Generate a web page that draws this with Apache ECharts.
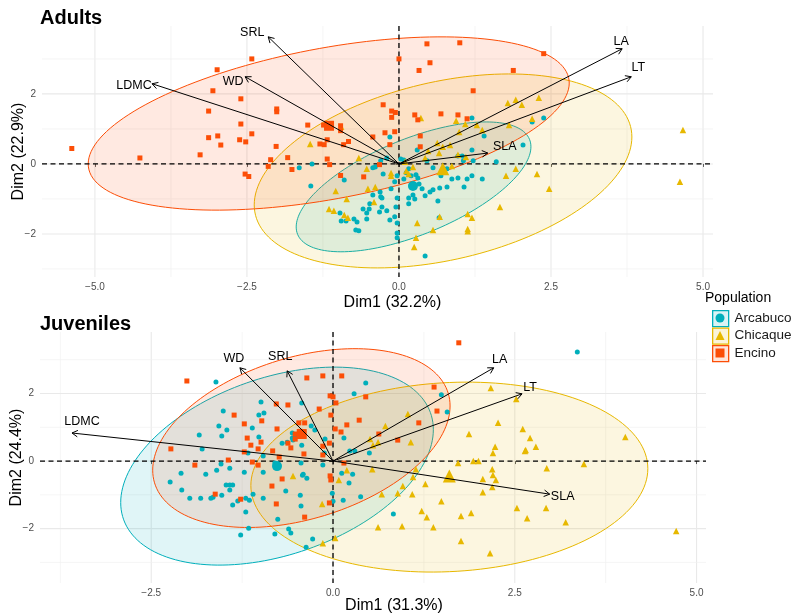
<!DOCTYPE html>
<html><head><meta charset="utf-8">
<script src="https://cdn.jsdelivr.net/npm/echarts@6/dist/echarts.min.js"></script>
<style>html,body{margin:0;padding:0;background:#fff}#c{width:791px;height:615px}</style>
</head><body><div id="c"></div>
<script>
// ---------------- DATA ----------------
const populations = ['Arcabuco', 'Chicaque', 'Encino'];

// Adults (PCA individuals, Dim1 / Dim2)
const adultsArcabuco = [[-1.64,-0.11],[-1.43,0.0],[-1.45,-0.63],[-0.90,-0.46],[-0.97,-1.4],[-0.95,-1.63],[-0.87,-1.63],[-0.74,-1.57],[-0.71,-1.89],[-0.69,-1.66],[-0.66,-1.91],[-0.59,-1.29],[-0.53,-1.40],[-0.53,-1.57],[-0.49,-1.29],[-0.48,-1.14],[-0.43,-0.89],[-0.32,-1.37],[-0.28,-1.23],[-0.20,-1.34],[-0.15,-1.60],[-0.07,-1.51],[-0.30,0.09],[-0.43,-0.11],[-0.30,-0.94],[-0.31,-0.80],[-0.15,0.77],[-0.07,-0.51],[-0.39,-0.09],[-0.26,-0.29],[-0.13,-0.71],[-0.28,-0.97],[-0.05,-1.23],[-0.03,-0.97],[-0.03,-0.34],[-0.03,-1.69],[-0.03,-1.97],[-0.03,-2.11],[0.03,0.14],[0.08,-0.43],[0.16,-0.14],[0.12,-0.25],[0.20,-0.34],[0.28,-0.31],[0.31,-0.40],[0.38,-0.71],[0.33,-0.57],[0.16,-0.97],[0.23,-0.89],[0.26,-1.0],[0.16,-1.14],[0.43,-0.91],[0.51,-0.80],[0.56,-0.74],[0.64,-1.06],[0.67,-0.69],[0.79,-0.66],[0.87,-0.43],[0.97,-0.40],[1.07,-0.66],[1.12,-0.43],[1.20,-0.34],[1.37,-0.43],[0.66,-1.54],[0.43,-2.63],[0.46,0.09],[0.56,-0.11],[0.69,-0.34],[0.79,-0.14],[1.04,0.23],[1.06,0.09],[1.22,0.09],[1.20,0.40],[1.40,0.80],[1.20,1.31],[1.60,0.06],[0.97,0.23],[2.04,0.54],[2.19,1.20],[2.38,1.31],[0.08,0.11],[-0.20,0.17],[0.30,0.40]];
const adultsChicaque = [[-1.46,0.57],[-1.04,-0.77],[-0.86,-1.0],[-1.15,-1.29],[-1.07,-1.34],[-0.90,-1.46],[-0.84,-1.54],[-0.66,0.17],[-0.53,-0.14],[-0.51,-0.71],[-0.39,-0.66],[-0.41,-1.09],[-0.95,1.06],[-0.13,-0.26],[-0.13,-0.34],[0.36,1.31],[0.63,0.60],[0.72,0.49],[0.84,0.54],[0.48,0.37],[0.66,0.31],[0.43,0.17],[0.10,0.06],[0.23,-0.09],[0.12,-0.2],[0.16,-0.29],[0.87,-0.06],[0.99,0.91],[0.94,1.23],[1.09,1.14],[1.28,1.11],[1.37,0.97],[0.97,0.26],[1.10,0.20],[0.67,-1.51],[0.30,-1.69],[0.56,-1.89],[0.28,-2.11],[0.25,-2.37],[1.13,-1.43],[1.20,-1.54],[1.13,-1.86],[1.66,-1.23],[1.79,1.74],[1.92,1.83],[2.02,1.69],[2.30,1.89],[2.19,1.29],[1.81,1.11],[1.76,-0.34],[1.92,-0.14],[2.27,-0.29],[2.47,-0.71],[4.67,0.97],[4.62,-0.51],[1.13,-1.92]];
const adultsEncino = [[-2.42,3.0],[-2.99,2.69],[-3.06,2.09],[-2.60,1.86],[-2.01,1.57],[-2.01,1.49],[-3.13,1.51],[-2.60,1.14],[-2.42,0.86],[-3.13,0.75],[-2.98,0.80],[-2.93,0.54],[-2.62,0.69],[-2.52,0.63],[-2.02,0.50],[-3.27,0.26],[-4.26,0.17],[-5.38,0.44],[-2.53,-0.29],[-2.47,-0.36],[-2.11,0.12],[-2.15,-0.07],[-1.83,0.18],[-1.76,-0.16],[-1.50,1.11],[-1.24,1.11],[-1.18,1.05],[-0.96,1.09],[-0.96,0.95],[-1.18,0.69],[-1.30,0.57],[-1.23,0.55],[-0.91,0.55],[-0.83,0.64],[-0.43,0.77],[-1.18,0.14],[-1.14,-0.02],[-0.96,-0.33],[-0.58,-0.37],[-0.32,-0.02],[-0.26,1.69],[-0.12,1.51],[-0.06,1.47],[-0.12,1.33],[-0.23,0.89],[-0.15,0.55],[-0.07,0.92],[0.46,3.43],[1.00,3.46],[2.38,3.15],[0.0,3.0],[0.51,2.89],[0.33,2.67],[1.88,2.67],[1.22,2.09],[0.26,1.40],[0.31,1.26],[0.69,1.43],[0.97,1.40],[1.12,1.29],[0.35,0.80],[0.35,0.49]];
const adultsMeans = [[0.23,-0.63],[0.72,-0.14],[-1.15,1.09]];
// ellipse: centre x, centre y, half-width x, y-shift at half-width, vertical half-conjugate
const adultsEllipses = [[0.24,-0.655,1.93,1.145,1.459],[0.725,-0.2,3.105,0.97,2.595],[-1.155,1.155,3.955,1.155,2.189]];
const adultsVars = ['LA','LT','SLA','SRL','WD','LDMC'];
const adultsLoadings = [[3.67,3.29],[3.82,2.49],[1.46,0.31],[-2.15,3.63],[-2.53,2.49],[-4.06,2.29]];

// Juveniles
const juvArcabuco = [[-1.61,2.34],[-0.99,1.75],[-1.51,1.48],[-1.02,1.36],[-0.95,1.42],[-1.57,1.04],[-1.46,0.92],[-1.84,0.77],[-1.53,0.74],[-1.11,0.98],[-1.02,0.71],[-0.43,1.72],[-1.80,0.36],[-1.17,0.24],[-0.96,0.15],[-0.70,0.53],[-0.63,0.56],[-0.56,0.68],[-0.55,0.62],[-0.52,0.71],[-0.43,0.47],[-0.80,-0.06],[-1.54,-0.09],[-1.42,-0.21],[-1.60,-0.27],[-1.22,-0.33],[-2.09,-0.36],[-1.75,-0.39],[-2.24,-0.62],[-2.08,-0.86],[-1.47,-0.71],[-1.42,-0.71],[-1.38,-0.71],[-1.53,-1.01],[-1.42,-0.86],[-1.97,-1.10],[-1.68,-1.10],[-1.65,-1.07],[-1.38,-1.30],[-1.31,-1.18],[-1.20,-1.10],[-1.15,-1.16],[-1.20,-1.51],[-1.10,-0.98],[-0.96,-1.10],[-1.27,-2.19],[-1.16,-1.99],[-0.80,-2.16],[-0.61,-2.01],[-0.58,-2.13],[-0.28,-2.31],[-0.37,-2.55],[-0.76,-1.72],[-0.44,-1.33],[-0.45,-1.01],[-0.65,-0.89],[-0.96,-0.33],[-0.41,-0.39],[-0.44,-0.06],[-0.14,-0.12],[0.12,-0.36],[-0.01,-0.95],[0.14,-1.16],[-0.12,0.24],[-0.30,1.04],[-0.25,0.92],[-0.56,0.83],[0.29,1.99],[0.45,2.31],[0.27,-0.39],[0.22,-0.65],[0.38,-1.06],[0.15,0.68],[-0.11,0.65],[1.49,1.96],[1.57,1.45],[0.50,0.24],[0.23,0.30],[0.30,0.30],[-0.36,-0.51],[-0.42,-0.42],[0.0,-1.19],[0.83,-1.57],[3.36,3.23],[-1.82,-1.10]];
const juvChicaque = [[2.17,2.16],[2.52,1.84],[1.03,1.39],[0.72,1.04],[2.27,1.13],[1.87,0.80],[2.61,0.95],[0.51,0.65],[0.62,0.56],[0.55,0.47],[1.07,0.56],[2.23,0.42],[2.20,0.24],[2.65,0.33],[1.72,-0.06],[1.93,0.0],[2.0,0.0],[0.19,-0.27],[0.54,-0.24],[0.08,-0.56],[1.14,-0.24],[1.10,-0.47],[2.19,-0.24],[2.20,-0.41],[2.24,-0.56],[2.06,-0.53],[2.19,-0.77],[1.27,-0.68],[0.96,-0.74],[0.67,-0.98],[0.89,-0.95],[1.09,-0.98],[1.49,-1.19],[2.06,-0.92],[-0.15,-1.27],[1.22,-1.48],[1.29,-1.66],[1.90,-1.54],[1.76,-1.63],[2.53,-1.39],[0.62,-1.96],[0.95,-1.93],[1.38,-1.96],[1.76,-2.37],[2.16,-2.73],[-0.14,-2.43],[0.03,-2.28],[2.71,0.68],[2.64,0.30],[2.79,0.42],[2.94,-0.21],[3.45,-0.09],[4.02,0.71],[2.67,-1.69],[2.93,-1.39],[3.20,-1.81],[4.72,-2.07],[-0.55,-0.44]];
const juvEncino = [[-2.01,2.37],[-0.36,2.46],[-0.14,2.52],[0.12,2.52],[-0.04,1.93],[0.0,1.90],[0.04,1.72],[-0.78,1.69],[-0.62,1.66],[-0.19,1.54],[0.45,1.90],[-1.36,1.36],[-1.22,1.10],[-0.98,1.19],[-0.03,1.36],[-0.47,1.13],[-0.39,1.13],[0.19,1.07],[0.36,1.21],[0.03,0.95],[0.11,0.86],[-0.52,0.65],[-0.77,0.95],[-1.18,0.68],[-1.13,0.47],[-1.03,0.36],[-0.99,0.56],[-0.58,0.39],[-0.62,0.53],[-0.14,0.44],[-0.05,0.53],[-0.83,0.30],[-0.74,0.12],[-0.40,0.21],[-0.14,0.18],[-1.22,0.27],[-1.11,-0.03],[-1.03,-0.12],[-2.23,0.36],[-1.90,-0.12],[-1.44,0.03],[-0.70,-0.53],[-0.84,-0.74],[-0.04,-0.44],[-0.03,-0.56],[-1.62,-0.98],[-1.27,-1.13],[-0.05,-1.24],[-0.78,-1.27],[-0.39,-1.66],[0.15,-0.06],[1.39,2.19],[1.43,1.48],[1.18,1.13],[0.63,0.80],[0.89,0.62],[1.73,3.50],[-0.45,0.88],[-0.52,0.80]];
const juvMeans = [[-0.77,-0.15],[1.60,-0.44],[-0.43,0.80]];
const juvEllipses = [[-0.77,-0.15,2.15,1.08,2.724],[1.60,-0.475,2.73,0.25,2.80],[-0.435,0.68,2.045,0.95,2.47]];
const juvVars = ['LA','LT','SLA','SRL','WD','LDMC'];
const juvLoadings = [[2.21,2.76],[2.60,1.99],[2.98,-0.98],[-0.63,2.67],[-1.28,2.76],[-3.59,0.83]];

// tick labels / grid values
const adultsXTicks = [-5, -2.5, 0, 2.5, 5];
const adultsXMinor = [-3.75, -1.25, 1.25, 3.75];
const adultsYTicks = [-2, 0, 2];
const adultsYMinor = [-3, -1, 1, 3];
const juvXTicks = [-2.5, 0, 2.5, 5];
const juvXMinor = [-3.75, -1.25, 1.25, 3.75];
const juvYTicks = [-2, 0, 2];
const juvYMinor = [-3, -1, 1, 3];

const panelTitles = ['Adults', 'Juveniles'];
const xNames = ['Dim1 (32.2%)', 'Dim1 (31.3%)'];
const yNames = ['Dim2 (22.9%)', 'Dim2 (24.4%)'];

// ---------------- STYLE ----------------
const FONT = '"Liberation Sans", Arial, Helvetica, sans-serif';
const COLORS = ['#00AFBB', '#E7B800', '#FC4E07'];
const SYMBOLS = ['circle', 'triangle', 'rect'];
const SIZES = [5, 6.5, 5];
const MEAN_SIZES = [10, 13, 10];
const labelOffsets = [
  {LA:[-1,-7], LT:[7,-9], SLA:[17,-7], SRL:[-16,-4], WD:[-12,5], LDMC:[-18,2]},
  {LA:[6,-8], LT:[8,-6], SLA:[13,2], SRL:[-7,-14], WD:[-6,-9], LDMC:[10,-11]}
];
function rgba(hex, a) {
  const n = parseInt(hex.slice(1), 16);
  return 'rgba(' + ((n >> 16) & 255) + ',' + ((n >> 8) & 255) + ',' + (n & 255) + ',' + a + ')';
}
const fmtX = v => (v < 0 ? '\u2212' : '') + Math.abs(v).toFixed(1);
const fmtY = v => (v < 0 ? '\u2212' : '') + Math.abs(v).toFixed(0);

const panels = [
  {pts:[adultsArcabuco, adultsChicaque, adultsEncino], means:adultsMeans, ell:adultsEllipses, vars:adultsVars, load:adultsLoadings,
   xT:adultsXTicks, xM:adultsXMinor, yT:adultsYTicks, yM:adultsYMinor},
  {pts:[juvArcabuco, juvChicaque, juvEncino], means:juvMeans, ell:juvEllipses, vars:juvVars, load:juvLoadings,
   xT:juvXTicks, xM:juvXMinor, yT:juvYTicks, yM:juvYMinor}
];
const grids = [
  {left:42, right:78, top:26, height:251, outerBoundsMode:'none', containLabel:false},
  {left:40, right:85, top:332, height:251, outerBoundsMode:'none', containLabel:false}
];
const xRanges = [[-5.87, 5.164], [-4.03, 5.13]];
const yRanges = [[-3.23, 3.94], [-3.61, 3.82]];
const xNamePad = [30, 42];
const xNameGap = [18, 15];

const xAxes = [], yAxes = [], series = [];
panels.forEach((P, p) => {
  xAxes.push({
    type:'value', gridIndex:p, min:xRanges[p][0], max:xRanges[p][1],
    name:xNames[p], nameLocation:'middle', nameGap:xNameGap[p], nameMoveOverlap:false,
    nameTextStyle:{fontSize:16, color:'#000', fontFamily:FONT, padding:[0,0,0,xNamePad[p]]},
    axisLine:{show:false}, splitLine:{show:false},
    axisTick:{show:true, customValues:P.xT, length:3, lineStyle:{color:'#333', width:0.8}},
    axisLabel:{customValues:P.xT, formatter:fmtX, fontSize:10, color:'#4D4D4D', fontFamily:FONT, margin:5}
  });
  yAxes.push({
    type:'value', gridIndex:p, min:yRanges[p][0], max:yRanges[p][1],
    name:yNames[p], nameLocation:'middle', nameGap:15, nameMoveOverlap:false,
    nameTextStyle:{fontSize:16, color:'#000', fontFamily:FONT},
    axisLine:{show:false}, splitLine:{show:false},
    axisTick:{show:true, customValues:P.yT, length:3, lineStyle:{color:'#333', width:0.8}},
    axisLabel:{customValues:P.yT, formatter:fmtY, fontSize:10, color:'#4D4D4D', fontFamily:FONT, margin:6}
  });

  // background grid lines (major + minor)
  const gridData = [].concat(
    P.xT.map(v => [v, 0, 0]), P.xM.map(v => [v, 0, 1]),
    P.yT.map(v => [v, 1, 0]), P.yM.map(v => [v, 1, 1]));
  series.push({
    type:'custom', xAxisIndex:p, yAxisIndex:p, z:0, silent:true, data:gridData,
    renderItem:(params, api) => {
      const cs = params.coordSys, v = api.value(0), dir = api.value(1), minor = api.value(2);
      let shape;
      if (dir === 0) { const x = api.coord([v, 0])[0]; shape = {x1:x, y1:cs.y, x2:x, y2:cs.y + cs.height}; }
      else { const y = api.coord([0, v])[1]; shape = {x1:cs.x, y1:y, x2:cs.x + cs.width, y2:y}; }
      return {type:'line', shape, style:{stroke: minor ? '#F1F1F1' : '#E9E9E9', lineWidth: minor ? 0.7 : 1.1}};
    }
  });

  // concentration ellipses
  series.push({
    type:'custom', xAxisIndex:p, yAxisIndex:p, z:1, silent:true,
    data:P.ell.map((e, i) => e.concat([i])),
    renderItem:(params, api) => {
      const cx = api.value(0), cy = api.value(1), ux = api.value(2), uy = api.value(3), vy = api.value(4), gi = api.value(5);
      const pts = [];
      for (let k = 0; k <= 160; k++) {
        const t = k / 160 * 2 * Math.PI;
        pts.push(api.coord([cx + ux * Math.cos(t), cy + uy * Math.cos(t) + vy * Math.sin(t)]));
      }
      return {type:'polygon', shape:{points:pts}, style:{fill:rgba(COLORS[gi], 0.12), stroke:COLORS[gi], lineWidth:1}};
    }
  });

  // dashed zero lines
  series.push({
    type:'custom', xAxisIndex:p, yAxisIndex:p, z:3, silent:true, data:[[0, 0], [0, 1]],
    renderItem:(params, api) => {
      const cs = params.coordSys, dir = api.value(1);
      const o = api.coord([0, 0]);
      const shape = dir === 0 ? {x1:o[0], y1:cs.y, x2:o[0], y2:cs.y + cs.height} : {x1:cs.x, y1:o[1], x2:cs.x + cs.width, y2:o[1]};
      return {type:'line', shape, style:{stroke:'#000', lineWidth:1.3, lineDash:[5, 3.5]}};
    }
  });

  // individuals
  populations.forEach((name, i) => {
    series.push({
      type:'scatter', name, xAxisIndex:p, yAxisIndex:p, z:4, silent:true,
      symbol:SYMBOLS[i], symbolSize:SIZES[i], itemStyle:{color:COLORS[i], opacity:1},
      data:P.pts[i]
    });
  });
  // group means
  populations.forEach((name, i) => {
    series.push({
      type:'scatter', name:name + ' mean', xAxisIndex:p, yAxisIndex:p, z:5, silent:true,
      symbol:SYMBOLS[i], symbolSize:MEAN_SIZES[i], itemStyle:{color:COLORS[i], opacity:1},
      data:[P.means[i]]
    });
  });

  // variable arrows
  const offs = labelOffsets[p];
  series.push({
    type:'custom', xAxisIndex:p, yAxisIndex:p, z:6, silent:true,
    data:P.load.map((l, i) => ({value:l, name:P.vars[i]})),
    renderItem:(params, api) => {
      const o = api.coord([0, 0]);
      const e = api.coord([api.value(0), api.value(1)]);
      const ang = Math.atan2(e[1] - o[1], e[0] - o[0]);
      const L = 6.5, A = Math.PI / 6;
      const h1 = [e[0] - L * Math.cos(ang - A), e[1] - L * Math.sin(ang - A)];
      const h2 = [e[0] - L * Math.cos(ang + A), e[1] - L * Math.sin(ang + A)];
      const nm = P.vars[params.dataIndex];
      const off = offs[nm] || [0, 0];
      return {type:'group', children:[
        {type:'line', shape:{x1:o[0], y1:o[1], x2:e[0], y2:e[1]}, style:{stroke:'#000', lineWidth:1}},
        {type:'polyline', shape:{points:[h1, e, h2]}, style:{stroke:'#000', lineWidth:1, fill:null}},
        {type:'text', x:e[0] + off[0], y:e[1] + off[1],
         style:{text:nm, fill:'#000', font:'12.5px ' + FONT, align:'center', verticalAlign:'middle'}}
      ]};
    }
  });
});

const legendBoxes = populations.map((name, i) => ({
  type:'rect', left:712, top:310 + i * 17.5, z:0,
  shape:{width:16, height:16},
  style:{fill:rgba(COLORS[i], 0.15), stroke:COLORS[i], lineWidth:1.3}
}));

const chart = echarts.init(document.getElementById('c'), null, {renderer:'canvas'});
chart.setOption({
  animation:false,
  backgroundColor:'#fff',
  title:[
    {text:panelTitles[0], left:40, top:8, padding:0, textStyle:{fontSize:20, fontWeight:'bold', color:'#000', fontFamily:FONT}},
    {text:panelTitles[1], left:40, top:314, padding:0, textStyle:{fontSize:20, fontWeight:'bold', color:'#000', fontFamily:FONT}}
  ],
  grid:grids,
  xAxis:xAxes,
  yAxis:yAxes,
  legend:{
    data:populations, orient:'vertical', left:715.5, top:311, padding:0,
    itemWidth:9, itemHeight:9, itemGap:3.5, selectedMode:false,
    textStyle:{fontSize:13.5, color:'#1A1A1A', fontFamily:FONT, padding:[0,0,0,5]}
  },
  graphic:[
    {type:'text', left:705, top:291, style:{text:'Population', fontSize:14, fill:'#000', fontFamily:FONT}}
  ].concat(legendBoxes),
  series
});
</script></body></html>
